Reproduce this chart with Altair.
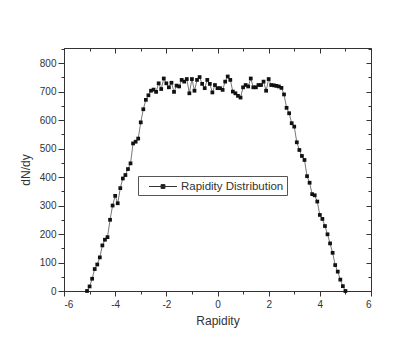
import altair as alt
import pandas as pd

rapidity = [-5.1, -5.0, -4.9, -4.8, -4.7, -4.6, -4.5, -4.4, -4.3, -4.2,
            -4.1, -4.0, -3.9, -3.8, -3.7, -3.6, -3.5, -3.4, -3.3, -3.2,
            -3.1, -3.0, -2.9, -2.8, -2.7, -2.6, -2.5, -2.4, -2.3, -2.2,
            -2.1, -2.0, -1.9, -1.8, -1.7, -1.6, -1.5, -1.4, -1.3, -1.2,
            -1.1, -1.0, -0.9, -0.8, -0.7, -0.6, -0.5, -0.4, -0.3, -0.2,
            -0.1, 0.0, 0.1, 0.2, 0.3, 0.4, 0.5, 0.6, 0.7, 0.8,
            0.9, 1.0, 1.1, 1.2, 1.3, 1.4, 1.5, 1.6, 1.7, 1.8,
            1.9, 2.0, 2.1, 2.2, 2.3, 2.4, 2.5, 2.6, 2.7, 2.8,
            2.9, 3.0, 3.1, 3.2, 3.3, 3.4, 3.5, 3.6, 3.7, 3.8,
            3.9, 4.0, 4.1, 4.2, 4.3, 4.4, 4.5, 4.6, 4.7, 4.8,
            4.9, 5.0]
dndy = [0, 16, 43, 77, 93, 118, 160, 180, 189, 250,
        300, 334, 308, 361, 395, 407, 428, 448, 518, 524,
        535, 592, 638, 671, 687, 703, 707, 699, 729, 709,
        746, 729, 715, 731, 699, 721, 718, 741, 735, 744,
        694, 744, 703, 741, 751, 727, 712, 741, 727, 697,
        723, 712, 712, 706, 735, 753, 741, 700, 694, 685,
        679, 715, 723, 718, 746, 715, 715, 723, 723, 735,
        703, 744, 723, 722, 720, 718, 713, 690, 643, 624,
        589, 577, 522, 495, 474, 460, 403, 380, 340, 336,
        314, 267, 253, 228, 199, 167, 134, 91, 68, 40,
        17, 0]
series_name = "Rapidity Distribution"

x_major = [-6, -4, -2, 0, 2, 4, 6]
x_minor = [-5, -3, -1, 1, 3, 5]
y_major = [0, 100, 200, 300, 400, 500, 600, 700, 800]
y_minor = [50, 150, 250, 350, 450, 550, 650, 750, 850]

df = pd.DataFrame({"x": rapidity, "y": dndy, "s": [series_name] * len(rapidity)})

FONT = "Liberation Sans"
AX = "#333333"
xs = alt.Scale(domain=[-6, 6], nice=False, zero=False)
ys = alt.Scale(domain=[0, 853], nice=False, zero=False)
HYPHEN_LABEL = "datum.value < 0 ? '-' + abs(datum.value) : '' + datum.value"

def blank_axis(orient, values, size, offset=0):
    return alt.Axis(orient=orient, values=values, tickSize=size, labels=False,
                    domain=False, grid=False, title=None, offset=offset,
                    tickColor=AX, tickWidth=1)

line = alt.Chart(df).mark_line(color="#555555", strokeWidth=0.8).encode(
    x=alt.X("x:Q", scale=xs, axis=alt.Axis(
        orient="bottom", values=x_major, tickSize=5, tickColor=AX, domainColor=AX,
        labelFont=FONT, labelFontSize=10, labelColor=AX, labelPadding=3,
        labelExpr=HYPHEN_LABEL,
        grid=False, title="Rapidity", titleFont=FONT, titleFontSize=12,
        titleFontWeight="normal", titleColor=AX, titlePadding=6)),
    y=alt.Y("y:Q", scale=ys, axis=alt.Axis(
        orient="left", values=y_major, tickSize=6, tickColor=AX, domainColor=AX,
        labelFont=FONT, labelFontSize=10, labelColor=AX, labelPadding=2,
        grid=False, title="dN/dy", titleFont=FONT, titleFontSize=12,
        titleFontWeight="normal", titleColor=AX, titlePadding=7)),
)

points = alt.Chart(df).mark_point(shape="square", filled=True, size=14, opacity=1).encode(
    x=alt.X("x:Q", scale=xs, axis=None),
    y=alt.Y("y:Q", scale=ys, axis=None),
    color=alt.Color("s:N", scale=alt.Scale(range=["#111111"]), legend=alt.Legend(
        title=None, orient="none", legendX=74, legendY=128,
        symbolType="M-2,0H2M-0.28,-0.28H0.28V0.28H-0.28Z",
        symbolSize=196, symbolStrokeWidth=1, symbolStrokeColor="#333333",
        symbolFillColor="#111111", symbolOffset=14.5,
        labelFont=FONT, labelFontSize=11.5,
        labelExpr="datum.label + '\u00a0\u00a0'",
        labelColor=AX, labelOffset=10.5, strokeColor="#555555", padding=3,
        fillColor="white")),
)

minor_bl = alt.Chart(df).mark_point(opacity=0).encode(
    x=alt.X("x:Q", scale=xs, axis=blank_axis("bottom", x_minor, 3)),
    y=alt.Y("y:Q", scale=ys, axis=blank_axis("left", y_minor, 3)),
)
major_tr = alt.Chart(df).mark_point(opacity=0).encode(
    x=alt.X("x:Q", scale=xs, axis=blank_axis("top", x_major, 5, -5)),
    y=alt.Y("y:Q", scale=ys, axis=blank_axis("right", y_major, 5, -5)),
)
minor_tr = alt.Chart(df).mark_point(opacity=0).encode(
    x=alt.X("x:Q", scale=xs, axis=blank_axis("top", x_minor, 3, -3)),
    y=alt.Y("y:Q", scale=ys, axis=blank_axis("right", y_minor, 3, -3)),
)

chart = alt.layer(line, points, minor_bl, major_tr, minor_tr).resolve_axis(
    x="independent", y="independent"
).properties(
    width=307, height=243,
    autosize=alt.AutoSizeParams(type="none"),
    padding={"left": 56, "top": 40, "right": 38, "bottom": 57},
).configure_view(stroke=AX, strokeWidth=1)

chart.save("out.html", embed_options={"renderer": "svg", "actions": False})
